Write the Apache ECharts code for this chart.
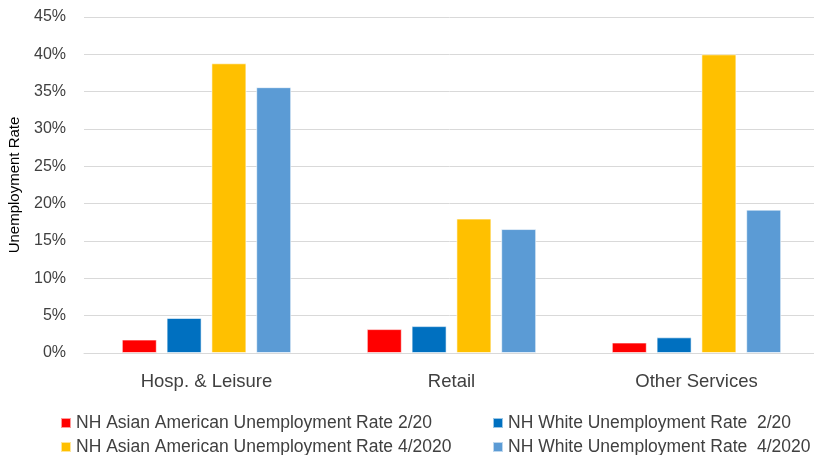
<!DOCTYPE html>
<html>
<head>
<meta charset="utf-8">
<script src="https://cdn.jsdelivr.net/npm/echarts@6/dist/echarts.min.js"></script>
<style>
  html, body { margin: 0; padding: 0; background: #fff; }
  #chart { width: 814px; height: 455px; }
</style>
</head>
<body>
<div id="chart"></div>
<script>
// categories and series (percent)
const categories = ['Hosp. & Leisure', 'Retail', 'Other Services'];
const asianFeb = [1.8, 3.2, 1.4];
const whiteFeb = [4.7, 3.6, 2.1];
const asianApr = [38.8, 18.0, 40.0];
const whiteApr = [35.6, 16.6, 19.2];

const names = [
    'NH Asian American Unemployment Rate 2/20',
    'NH White Unemployment Rate  2/20',
    'NH Asian American Unemployment Rate 4/2020',
    'NH White Unemployment Rate  4/2020'
];
const colors = ['#ff0000', '#0070c0', '#ffc000', '#5b9bd5'];
const values = [asianFeb, whiteFeb, asianApr, whiteApr];

const font = '"Liberation Sans", Arial, sans-serif';
const textColor = '#404040';

// one legend per item, laid out 2 x 2
const legendPos = [[60, 414], [492, 414], [60, 438], [492, 438]];
const legends = names.map((n, i) => ({
    left: legendPos[i][0],
    top: legendPos[i][1],
    padding: 0,
    data: [n],
    itemWidth: 10,
    itemHeight: 10,
    icon: 'rect',
    textStyle: { color: textColor, fontSize: 17.5, fontFamily: font }
}));

const option = {
    animation: false,
    color: colors,
    grid: { left: 84, width: 735, top: 17, bottom: 102, outerBoundsMode: 'none' },
    legend: legends,
    xAxis: {
        type: 'category',
        data: categories,
        axisLine: { lineStyle: { color: '#d9d9d9' } },
        axisTick: { show: false },
        axisLabel: { color: textColor, fontSize: 18.5, fontFamily: font, margin: 19 }
    },
    yAxis: {
        type: 'value',
        min: 0,
        max: 45,
        interval: 5,
        name: 'Unemployment Rate',
        nameLocation: 'middle',
        nameGap: 62,
        nameTextStyle: { color: '#000', fontSize: 15, fontFamily: font },
        axisLine: { show: false },
        axisTick: { show: false },
        splitLine: { lineStyle: { color: '#d9d9d9' } },
        axisLabel: { color: textColor, fontSize: 16, fontFamily: font, margin: 18, formatter: '{value}%' }
    },
    series: names.map((n, i) => ({
        name: n,
        type: 'bar',
        data: values[i],
        barWidth: 35,
        barGap: '28%',
        itemStyle: { color: colors[i], borderColor: 'rgba(255,255,255,0.6)', borderWidth: 1 }
    }))
};

const chart = echarts.init(document.getElementById('chart'));
chart.setOption(option);
</script>
</body>
</html>
